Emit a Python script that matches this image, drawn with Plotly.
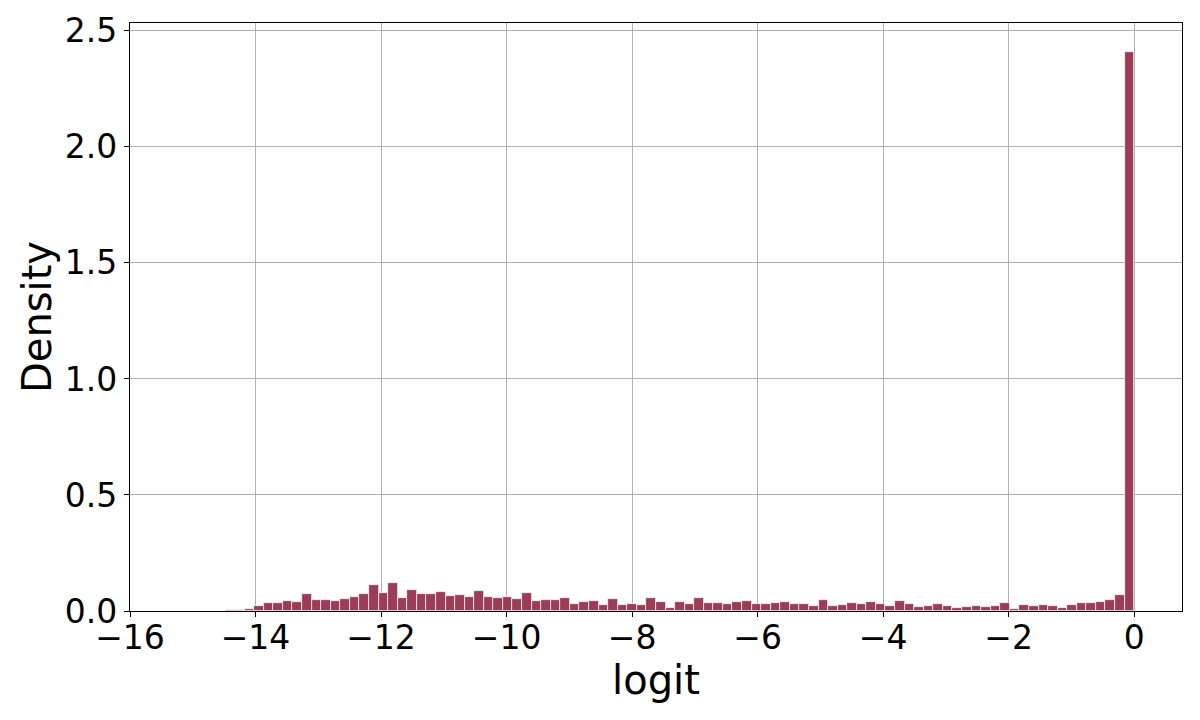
import plotly.graph_objects as go

# histogram of logits (density), 100 bins from -15.24 to 0
bin_start = -15.24
bin_width = 0.1524
density = [
    0.001, 0.001, 0.002, 0.002, 0.002, 0.006, 0.006, 0.010, 0.023, 0.036,
    0.036, 0.045, 0.040, 0.072, 0.049, 0.049, 0.045, 0.053, 0.062, 0.072,
    0.111, 0.079, 0.122, 0.057, 0.092, 0.075, 0.075, 0.083, 0.066, 0.070,
    0.062, 0.088, 0.062, 0.057, 0.062, 0.053, 0.079, 0.045, 0.049, 0.049,
    0.057, 0.032, 0.040, 0.045, 0.027, 0.053, 0.027, 0.032, 0.027, 0.057,
    0.040, 0.014, 0.040, 0.032, 0.057, 0.036, 0.036, 0.032, 0.040, 0.045,
    0.032, 0.032, 0.036, 0.040, 0.032, 0.032, 0.023, 0.049, 0.023, 0.027,
    0.036, 0.032, 0.040, 0.032, 0.023, 0.045, 0.032, 0.019, 0.023, 0.032,
    0.023, 0.014, 0.019, 0.023, 0.019, 0.023, 0.036, 0.010, 0.027, 0.023,
    0.027, 0.023, 0.014, 0.027, 0.036, 0.036, 0.040, 0.049, 0.070, 2.411,
]
x_ticks = [-16, -14, -12, -10, -8, -6, -4, -2, 0]
y_ticks = [0.0, 0.5, 1.0, 1.5, 2.0, 2.5]

centers = [bin_start + bin_width * (i + 0.5) for i in range(len(density))]

fig = go.Figure(go.Bar(
    x=centers, y=density, width=bin_width,
    marker=dict(color="#9c3c57", line=dict(color="white", width=0.7)),
))

font = "DejaVu Sans"
axis_common = dict(
    showline=True, linecolor="black", linewidth=1.2, mirror=True,
    showgrid=True, gridcolor="#b0b0b0", gridwidth=1,
    ticks="outside", ticklen=5, tickwidth=1.2, tickcolor="black",
    tickfont=dict(family=font, size=33, color="black"),
    zeroline=False, automargin=False,
)
fig.update_xaxes(range=[-16.0, 0.762], tickvals=x_ticks, ticklabelstandoff=-8,
                 title=dict(text="logit", font=dict(family=font, size=40, color="black"), standoff=0),
                 **axis_common)
fig.update_yaxes(range=[0, 2.534], tickvals=y_ticks, tickformat=".1f",
                 title=dict(text="Density", font=dict(family=font, size=40, color="black"), standoff=0),
                 **axis_common)
# page body has an 8px margin, so offsets are shifted accordingly
fig.update_layout(
    width=1200, height=720,
    margin=dict(l=122, r=26, t=15, b=117),
    plot_bgcolor="white", paper_bgcolor="white",
    showlegend=False, bargap=0,
)
fig.write_html("out.html")
